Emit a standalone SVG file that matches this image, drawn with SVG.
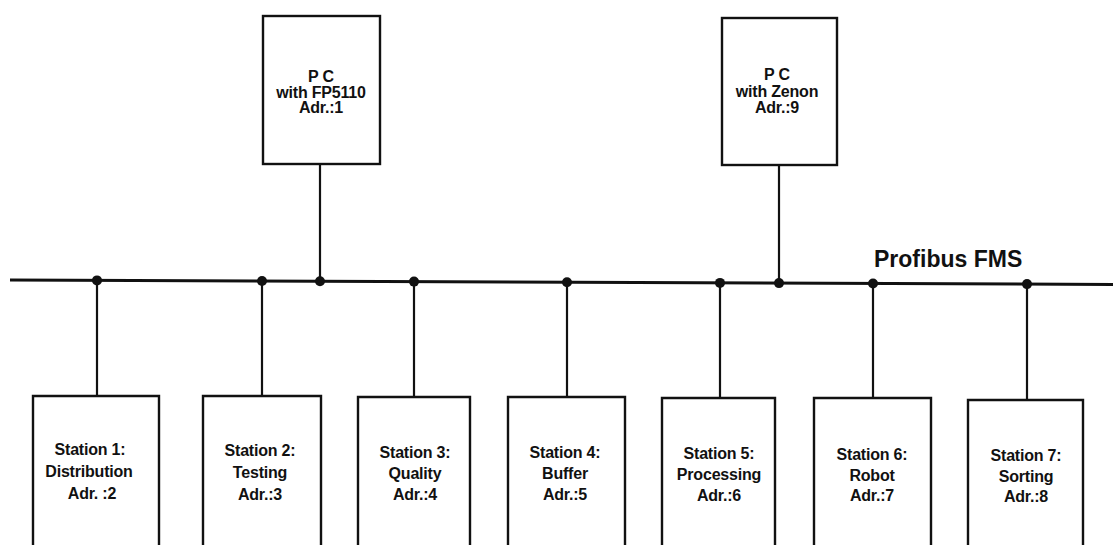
<svg xmlns="http://www.w3.org/2000/svg" width="1113" height="545" viewBox="0 0 1113 545">
<style>
.box{fill:#fff;stroke:#111;stroke-width:2.4}
.ln{stroke:#111;stroke-width:2.2;fill:none}
.bus{stroke:#111;stroke-width:3;fill:none}
.dot{fill:#111}
.t{font-family:"Liberation Sans",Arial,sans-serif;font-weight:bold;font-size:16px;fill:#111;text-anchor:middle;letter-spacing:-0.2px}
.bt{font-family:"Liberation Sans",Arial,sans-serif;font-weight:bold;font-size:23px;fill:#111}
</style>
<rect width="1113" height="545" fill="#fff"/>
<g id="connectors">
<line class="bus" x1="10" y1="280" x2="1113" y2="284.5"/>
<line class="ln" x1="320" y1="164" x2="320" y2="281.3"/>
<line class="ln" x1="779" y1="165" x2="779" y2="283.1"/>
<line class="ln" x1="97" y1="280.4" x2="97" y2="396"/>
<line class="ln" x1="262" y1="281" x2="262" y2="396"/>
<line class="ln" x1="414" y1="281.6" x2="414" y2="397"/>
<line class="ln" x1="567" y1="282.3" x2="567" y2="397"/>
<line class="ln" x1="720" y1="282.9" x2="720" y2="398"/>
<line class="ln" x1="873" y1="283.5" x2="873" y2="398"/>
<line class="ln" x1="1027" y1="284.1" x2="1027" y2="400"/>
<circle class="dot" cx="97" cy="280.4" r="5"/>
<circle class="dot" cx="262" cy="281" r="5"/>
<circle class="dot" cx="320" cy="281.3" r="5"/>
<circle class="dot" cx="414" cy="281.6" r="5"/>
<circle class="dot" cx="567" cy="282.3" r="5"/>
<circle class="dot" cx="720" cy="282.9" r="5"/>
<circle class="dot" cx="779" cy="283.1" r="5"/>
<circle class="dot" cx="873" cy="283.5" r="5"/>
<circle class="dot" cx="1027" cy="284.1" r="5"/>
</g>
<g id="bus-label"><text class="bt" x="874" y="267">Profibus FMS</text></g>
<g id="pc1">
<rect class="box" x="263" y="16" width="117" height="148"/>
<text class="t" x="321" y="82">P C</text>
<text class="t" x="321" y="98">with FP5110</text>
<text class="t" x="321" y="113">Adr.:1</text>
</g>
<g id="pc2">
<rect class="box" x="722" y="18" width="115" height="147"/>
<text class="t" x="777" y="80">P C</text>
<text class="t" x="777" y="97">with Zenon</text>
<text class="t" x="777" y="113">Adr.:9</text>
</g>
<g id="station1">
<path class="box" d="M33 550 V396 H159 V550"/>
<text class="t" x="90" y="455">Station 1:</text>
<text class="t" x="89" y="477">Distribution</text>
<text class="t" x="92" y="499">Adr. :2</text>
</g>
<g id="station2">
<path class="box" d="M203 550 V396 H321 V550"/>
<text class="t" x="260" y="456">Station 2:</text>
<text class="t" x="260" y="478">Testing</text>
<text class="t" x="260" y="500">Adr.:3</text>
</g>
<g id="station3">
<path class="box" d="M358 550 V397 H470 V550"/>
<text class="t" x="415" y="458">Station 3:</text>
<text class="t" x="415" y="479">Quality</text>
<text class="t" x="415" y="500">Adr.:4</text>
</g>
<g id="station4">
<path class="box" d="M508 550 V397 H625 V550"/>
<text class="t" x="565" y="458">Station 4:</text>
<text class="t" x="565" y="479">Buffer</text>
<text class="t" x="565" y="500">Adr.:5</text>
</g>
<g id="station5">
<path class="box" d="M662 550 V398 H775 V550"/>
<text class="t" x="719" y="459">Station 5:</text>
<text class="t" x="719" y="480">Processing</text>
<text class="t" x="719" y="501">Adr.:6</text>
</g>
<g id="station6">
<path class="box" d="M814 550 V398 H931 V550"/>
<text class="t" x="872" y="460">Station 6:</text>
<text class="t" x="872" y="481">Robot</text>
<text class="t" x="872" y="501">Adr.:7</text>
</g>
<g id="station7">
<path class="box" d="M968 550 V400 H1083 V550"/>
<text class="t" x="1026" y="461">Station 7:</text>
<text class="t" x="1026" y="482">Sorting</text>
<text class="t" x="1026" y="502">Adr.:8</text>
</g>
</svg>
